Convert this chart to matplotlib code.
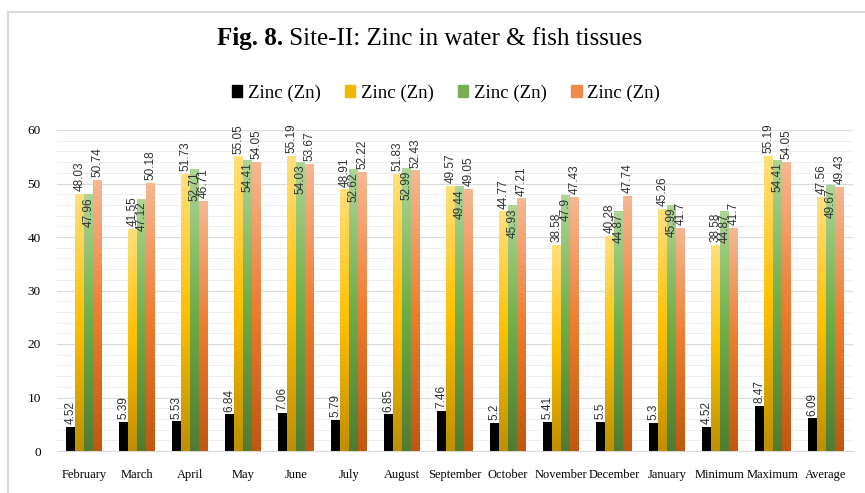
import numpy as np
import matplotlib
matplotlib.use("Agg")
import matplotlib.pyplot as plt
from matplotlib.colors import LinearSegmentedColormap
from matplotlib.patches import Rectangle

categories = ["February", "March", "April", "May", "June", "July", "August",
              "September", "October", "November", "December", "January",
              "Minimum", "Maximum", "Average"]
series_names = ["Zinc (Zn)", "Zinc (Zn)", "Zinc (Zn)", "Zinc (Zn)"]
water = [4.52, 5.39, 5.53, 6.84, 7.06, 5.79, 6.85, 7.46, 5.2, 5.41, 5.5, 5.3, 4.52, 8.47, 6.09]
tissue1 = [48.03, 41.55, 51.73, 55.05, 55.19, 48.91, 51.83, 49.57, 44.77, 38.58, 40.28, 45.26, 38.58, 55.19, 47.56]
tissue2 = [47.96, 47.12, 52.71, 54.41, 54.03, 52.62, 52.99, 49.44, 45.93, 47.9, 44.87, 45.99, 44.87, 54.41, 49.67]
tissue3 = [50.74, 50.18, 46.71, 54.05, 53.67, 52.22, 52.43, 49.05, 47.21, 47.43, 47.74, 41.7, 41.7, 54.05, 49.43]
series = [water, tissue1, tissue2, tissue3]

gradients = [None,
             ["#BF8F00", "#FFC000", "#FFE07C"],
             ["#507C32", "#70AD47", "#AFD596"],
             ["#C0580F", "#ED7D31", "#F6B893"]]
solid = ["#000000", "#F5C242", "#8DC06B", "#F0A070"]

fig = plt.figure(figsize=(8.65, 4.93), dpi=100)
fig.patch.set_facecolor("white")
# outer frame
fig.patches.append(Rectangle((8/865, -0.01), 1.0, 1 - 12/493 + 0.01, transform=fig.transFigure,
                             fill=False, edgecolor="#D9D9D9", lw=1.5, zorder=0))

ax = fig.add_axes([57.5/865, 42/493, 795/865, 321/493])
x = np.arange(len(categories))
w = 0.166
offsets = [-1.5 * w, -0.5 * w, 0.5 * w, 1.5 * w]

ax.set_ylim(0, 60)
ax.set_xlim(-0.5, len(categories) - 0.5)
ax.set_yticks(np.arange(0, 61, 10))
ax.set_yticks(np.arange(0, 61, 2), minor=True)
ax.grid(axis="y", which="major", color="#D9D9D9", lw=0.8, zorder=0)
ax.grid(axis="y", which="minor", color="#EDEDED", lw=0.7, zorder=0)
ax.tick_params(axis="y", which="both", length=0, labelsize=9.5, pad=12)
ax.tick_params(axis="x", length=0, labelsize=9, pad=13)
for s in ["top", "right", "left"]:
    ax.spines[s].set_visible(False)
ax.spines["bottom"].set_color("#D9D9D9")
ax.set_xticks(x)
ax.set_xticklabels(categories, family="Liberation Serif", fontsize=9)
for lbl in ax.get_yticklabels():
    lbl.set_family("Liberation Serif")

for i, (vals, off) in enumerate(zip(series, offsets)):
    bars = ax.bar(x + off, vals, width=w, color=solid[i], zorder=2, lw=0)
    if gradients[i] is not None:
        cmap = LinearSegmentedColormap.from_list("g%d" % i, gradients[i])
        grad = np.linspace(0, 1, 256).reshape(-1, 1)
        for b in bars:
            x0, bw, h = b.get_x(), b.get_width(), b.get_height()
            im = ax.imshow(grad, cmap=cmap, aspect="auto", origin="lower",
                           extent=(x0, x0 + bw, 0, h), zorder=3)
            im.set_clip_path(b)
    for xi, v in zip(x + off, vals):
        if i == 2:
            ax.annotate(str(v), (xi, v), xytext=(0, -2), textcoords="offset points",
                        rotation=90, ha="center", va="top", fontsize=8.5,
                        family="Liberation Sans", color="#303030", zorder=5)
        else:
            ax.annotate(str(v), (xi, v), xytext=(0, 2), textcoords="offset points",
                        rotation=90, ha="center", va="bottom", fontsize=8.5,
                        family="Liberation Sans", color="#303030", zorder=5)

ax.set_xlim(-0.5, len(categories) - 0.5)
ax.set_ylim(0, 60)

# title
t1 = fig.text(0, 0, "Fig. 8.", fontsize=18, family="Liberation Serif", weight="bold")
t2 = fig.text(0, 0, " Site-II: Zinc in water & fish tissues", fontsize=18, family="Liberation Serif")
fig.canvas.draw()
r = fig.canvas.get_renderer()
w1 = t1.get_window_extent(r).width
w2 = t2.get_window_extent(r).width
startx = 430 - (w1 + w2) / 2
ty = 493 - 39
t1.set_position((startx / 865, ty / 493)); t1.set_va("center")
t2.set_position(((startx + w1) / 865, ty / 493)); t2.set_va("center")

# legend
handles = [Rectangle((0, 0), 1, 1, color=c) for c in ["#000000", "#F2B800", "#78AE55", "#EE8A4A"]]
leg = fig.legend(handles, series_names, loc="center", bbox_to_anchor=(446/865, 1 - 93/493),
                 ncol=4, frameon=False, handlelength=0.55, handleheight=0.55,
                 handletextpad=0.3, columnspacing=1.3,
                 prop={"family": "Liberation Serif", "size": 13.5})

fig.savefig("out.png", dpi=100, facecolor="white")
